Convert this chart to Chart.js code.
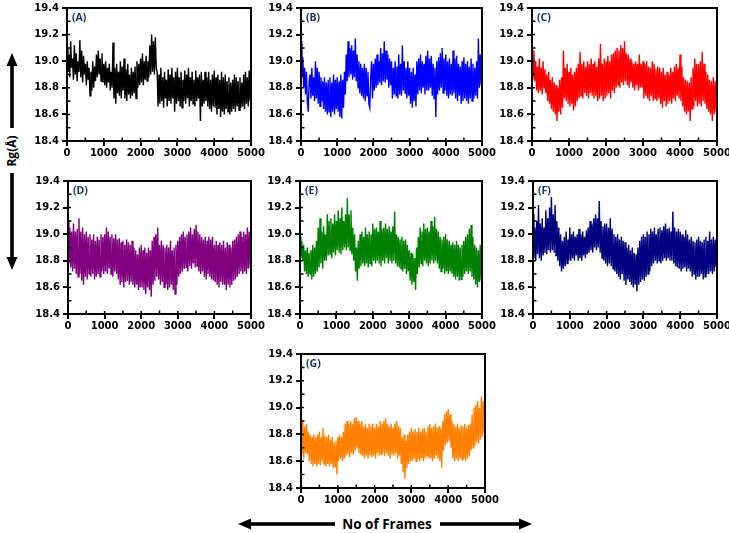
<!DOCTYPE html>
<html>
<head>
<meta charset="utf-8">
<script src="https://cdn.jsdelivr.net/npm/chart.js@4/dist/chart.umd.min.js"></script>
<style>
html,body{margin:0;padding:0;background:#fff;}
#wrap{position:relative;width:729px;height:533px;overflow:hidden;background:#fff;}
canvas{position:absolute;}
.plab{position:absolute;font-family:"Open Sans",sans-serif;font-weight:bold;font-size:10.5px;color:#1b3566;line-height:11px;}
#ylab{position:absolute;left:12px;top:151px;transform:translate(-50%,-50%) rotate(-90deg);font-family:"Open Sans",sans-serif;font-weight:bold;font-size:12px;color:#000;white-space:nowrap;line-height:12px;}
#xlab{position:absolute;left:387px;top:524px;transform:translate(-50%,-50%);font-family:"Open Sans",sans-serif;font-weight:bold;font-size:13.5px;color:#000;white-space:nowrap;line-height:14px;}
svg{position:absolute;left:0;top:0;}
</style>
</head>
<body>
<div id="wrap">
<svg width="729" height="533">
  <rect x="10.2" y="64" width="3.6" height="64" fill="#000"/>
  <polygon points="12,53 6.5,66 17.5,66" fill="#000"/>
  <rect x="10.2" y="173" width="3.6" height="85" fill="#000"/>
  <polygon points="12,270 6.5,257 17.5,257" fill="#000"/>
  <rect x="249" y="522.2" width="86" height="3.6" fill="#000"/>
  <polygon points="238,524 251,518.5 251,529.5" fill="#000"/>
  <rect x="440" y="522.2" width="80" height="3.6" fill="#000"/>
  <polygon points="532,524 519,518.5 519,529.5" fill="#000"/>
</svg>
<div id="ylab">Rg(Å)</div>
<div id="xlab">No of Frames</div>
</div>
<script>
// ---------------- data ----------------
// frame numbers (category axis): every 25 frames from 0 to 5000
const frames = Array.from({length:201}, (_, i) => i * 25);

const xTicks = [0,1000,2000,3000,4000,5000];
const xMinor = [500,1500,2500,3500,4500];
const yTicks = [18.4,18.6,18.8,19.0,19.2,19.4];
const yMinor = [18.5,18.7,18.9,19.1,19.3];

const rgA = [
19.10,18.92,19.05,18.88,19.15,18.95,19.02,18.86,19.12,18.90,
19.06,18.85,19.00,18.92,19.16,18.88,19.08,18.84,19.04,18.90,
18.98,18.82,19.00,18.86,18.95,18.74,18.92,18.78,19.00,18.80,
18.96,18.85,19.05,18.88,19.08,18.90,19.02,18.85,19.06,18.84,
18.98,18.82,19.00,18.80,18.95,18.84,18.98,18.78,18.92,18.80,
19.14,18.72,18.95,18.68,18.98,18.76,18.92,18.74,19.00,18.72,
18.96,18.78,19.02,18.72,18.94,18.70,18.98,18.75,18.90,18.72,
18.95,18.74,18.92,18.76,18.96,18.72,19.00,18.80,18.98,18.82,
19.02,18.84,19.06,18.82,19.00,18.86,19.04,18.85,19.00,18.88,
19.12,18.90,19.20,18.92,19.15,18.90,19.18,18.95,18.92,18.66,
18.90,18.68,18.95,18.70,18.88,18.65,18.92,18.72,18.86,18.66,
18.94,18.70,18.90,18.68,18.95,18.72,18.88,18.62,18.92,18.68,
18.95,18.70,18.88,18.66,18.92,18.65,18.86,18.70,18.93,18.68,
18.90,18.72,18.95,18.66,18.88,18.70,18.92,18.68,18.86,18.66,
18.93,18.70,18.88,18.72,18.90,18.55,18.92,18.66,18.86,18.68,
18.92,18.70,18.88,18.66,18.92,18.64,18.86,18.62,18.90,18.66,
18.93,18.65,18.88,18.60,18.90,18.64,18.86,18.58,18.92,18.62,
18.88,18.60,18.90,18.64,18.85,18.62,18.88,18.60,18.84,18.62,
18.86,18.64,18.90,18.62,18.88,18.66,18.85,18.63,18.88,18.65,
18.84,18.66,18.90,18.64,18.92,18.68,18.88,18.66,18.93,18.70,
18.95];

const rgB = [
19.15,18.88,19.03,18.80,18.95,18.75,18.92,18.70,18.62,18.85,
18.90,18.72,18.95,18.74,18.88,18.70,19.00,18.72,18.95,18.68,
18.92,18.66,18.88,18.70,18.85,18.64,18.88,18.62,18.84,18.60,
18.86,18.62,18.88,18.58,18.84,18.62,18.90,18.60,18.86,18.64,
18.88,18.62,18.85,18.58,18.90,18.57,18.86,18.65,18.92,18.75,
19.05,18.85,19.15,18.88,19.10,18.90,19.12,18.86,19.08,18.88,
19.17,18.85,19.05,18.80,19.00,18.76,18.98,18.74,18.95,18.72,
18.98,18.70,18.95,18.74,18.92,18.68,18.65,18.88,19.00,18.72,
18.98,18.78,19.02,18.80,19.05,18.82,19.00,18.84,19.10,18.82,
19.06,18.85,19.15,18.84,19.08,18.86,19.05,18.80,19.02,18.82,
19.00,18.72,18.95,18.75,19.00,18.74,18.96,18.72,19.05,18.75,
18.98,18.74,19.12,18.78,19.00,18.76,18.95,18.72,19.00,18.74,
18.95,18.68,18.92,18.65,18.95,18.70,18.90,18.66,19.00,18.75,
19.02,18.78,19.05,18.76,19.00,18.80,18.98,18.75,19.04,18.78,
19.08,18.78,19.02,18.80,19.04,18.74,18.98,18.72,18.95,18.58,
19.00,18.75,19.03,18.78,19.06,18.80,19.10,18.76,19.02,18.78,
19.05,18.74,19.00,18.72,19.02,18.75,18.98,18.74,19.08,18.76,
19.02,18.72,19.04,18.70,18.98,18.74,18.96,18.68,19.00,18.70,
19.03,18.72,18.98,18.70,19.00,18.68,18.96,18.72,19.02,18.70,
18.98,18.72,18.95,18.74,19.00,18.72,19.17,18.80,19.05,18.82,
19.00];

const rgC = [
19.05,18.86,19.08,18.85,19.00,18.78,18.96,18.76,19.02,18.78,
18.95,18.75,19.00,18.80,18.94,18.76,18.90,18.70,18.92,18.68,
18.86,18.64,18.88,18.62,18.84,18.60,18.82,18.55,18.80,18.62,
18.86,18.60,18.88,18.65,19.08,18.72,18.95,18.70,18.98,18.68,
18.92,18.66,18.95,18.68,18.90,18.63,18.92,18.66,18.95,18.70,
18.98,18.72,19.07,18.74,18.98,18.72,19.00,18.76,18.96,18.74,
19.00,18.72,18.98,18.76,19.02,18.74,18.98,18.72,19.00,18.74,
18.96,18.70,19.02,18.72,19.13,18.74,18.98,18.70,19.02,18.72,
19.00,18.74,19.04,18.76,19.00,18.72,19.05,18.78,19.06,18.76,
19.08,18.80,19.10,18.82,19.08,18.80,19.12,18.84,19.10,18.82,
19.15,18.85,19.06,18.82,19.05,18.80,19.02,18.84,19.00,18.80,
18.98,18.78,19.00,18.82,18.98,18.78,19.05,18.80,18.98,18.80,
19.00,18.72,18.98,18.74,19.00,18.72,18.96,18.70,18.95,18.74,
19.00,18.70,18.98,18.72,18.94,18.70,18.96,18.72,18.95,18.68,
18.92,18.65,18.95,18.70,18.90,18.66,18.92,18.68,18.90,18.70,
18.95,18.68,18.92,18.72,18.96,18.70,18.98,18.74,18.95,18.72,
19.05,18.70,18.96,18.66,18.88,18.62,18.86,18.60,18.85,18.62,
18.84,18.55,18.88,18.64,18.95,18.66,19.02,18.70,18.98,18.66,
18.98,18.68,19.00,18.66,19.07,18.70,18.98,18.68,18.92,18.64,
18.90,18.62,18.86,18.60,18.85,18.55,18.88,18.60,18.85,18.62,
18.93];

const rgD = [
19.10,18.78,19.05,18.75,19.02,18.72,19.08,18.74,19.02,18.70,
19.04,18.68,19.12,18.70,19.02,18.65,19.05,18.62,19.00,18.68,
19.02,18.66,18.98,18.70,19.00,18.68,18.96,18.70,19.00,18.66,
18.95,18.68,18.98,18.70,18.96,18.68,19.00,18.72,18.98,18.70,
19.00,18.72,19.05,18.70,19.02,18.74,18.98,18.70,19.00,18.68,
18.97,18.72,19.00,18.70,18.96,18.66,18.97,18.62,18.94,18.64,
18.95,18.60,18.92,18.64,18.96,18.65,18.94,18.62,18.92,18.64,
18.95,18.62,18.90,18.60,18.88,18.62,18.85,18.58,18.90,18.60,
18.92,18.60,18.88,18.58,18.90,18.55,18.86,18.60,18.90,18.58,
18.88,18.53,18.95,18.62,18.98,18.65,19.00,18.68,19.05,18.66,
18.92,18.62,18.95,18.64,18.92,18.60,18.90,18.62,18.92,18.58,
18.90,18.60,18.95,18.62,18.88,18.58,18.90,18.55,18.92,18.62,
18.95,18.68,18.98,18.70,19.00,18.72,19.02,18.74,18.98,18.75,
19.00,18.72,19.02,18.76,19.05,18.74,19.00,18.78,19.04,18.75,
19.07,18.76,19.02,18.72,19.00,18.70,18.98,18.72,18.96,18.68,
18.98,18.66,18.95,18.70,18.98,18.68,18.96,18.66,18.98,18.65,
18.92,18.64,18.95,18.62,18.92,18.60,18.94,18.64,18.92,18.62,
18.95,18.62,18.90,18.58,18.94,18.62,18.92,18.60,18.90,18.62,
18.95,18.65,18.96,18.66,18.98,18.68,19.00,18.70,19.02,18.72,
18.98,18.70,19.02,18.72,19.00,18.70,19.05,18.74,19.02,18.75,
18.92];

const rgE = [
18.98,18.82,18.95,18.80,18.92,18.72,18.88,18.70,18.90,18.68,
18.86,18.70,18.88,18.66,18.92,18.68,18.90,18.70,18.95,18.72,
19.05,18.75,19.12,18.78,19.02,18.74,19.06,18.80,19.00,18.80,
19.15,18.84,19.10,18.85,19.12,18.82,19.08,18.86,19.15,18.84,
19.10,18.88,19.18,18.86,19.12,18.85,19.20,18.88,19.10,18.90,
19.15,18.88,19.27,18.90,19.15,18.88,19.18,18.85,19.05,18.80,
19.00,18.72,18.90,18.65,18.95,18.74,19.00,18.76,19.02,18.78,
18.98,18.76,19.05,18.78,19.00,18.75,19.02,18.78,19.00,18.76,
19.08,18.80,19.04,18.78,19.05,18.80,19.02,18.78,19.10,18.76,
19.04,18.80,19.05,18.78,19.08,18.82,19.04,18.78,19.06,18.80,
19.02,18.78,19.06,18.80,19.17,18.78,19.00,18.76,18.98,18.75,
18.96,18.74,18.98,18.72,18.95,18.74,18.96,18.70,18.92,18.72,
18.88,18.65,18.86,18.62,18.85,18.64,18.82,18.58,18.90,18.70,
18.98,18.75,19.05,18.78,19.02,18.76,19.08,18.80,19.04,18.78,
19.05,18.76,19.02,18.78,19.10,18.80,19.06,18.78,19.13,18.80,
19.04,18.78,19.02,18.74,18.98,18.72,18.96,18.74,18.98,18.70,
19.00,18.72,18.96,18.70,18.95,18.72,18.92,18.70,18.94,18.68,
18.92,18.66,18.95,18.68,18.92,18.65,18.90,18.66,18.92,18.68,
18.95,18.70,18.98,18.72,19.00,18.70,19.04,18.72,19.07,18.68,
18.98,18.66,18.92,18.62,18.90,18.60,18.88,18.64,18.92,18.65,
18.92];

const rgF = [
19.15,18.82,19.05,18.80,19.10,18.85,19.22,18.82,19.08,18.80,
19.12,18.84,19.05,18.86,19.18,18.85,19.12,18.88,19.20,18.86,
19.28,18.88,19.15,18.86,19.22,18.84,19.10,18.80,19.05,18.76,
19.00,18.72,18.95,18.74,18.98,18.76,19.02,18.78,18.96,18.80,
19.05,18.80,19.00,18.82,19.02,18.80,18.98,18.84,19.00,18.80,
19.04,18.82,19.00,18.80,19.02,18.84,18.98,18.82,19.03,18.85,
19.05,18.86,19.10,18.88,19.08,18.86,19.12,18.90,19.15,18.88,
19.12,18.90,19.25,18.86,19.10,18.82,19.06,18.80,19.08,18.78,
19.08,18.76,19.05,18.78,19.12,18.76,19.04,18.74,19.00,18.72,
18.98,18.70,19.00,18.68,18.96,18.66,18.98,18.70,18.95,18.65,
18.94,18.62,18.90,18.66,18.92,18.64,18.88,18.62,18.90,18.60,
18.86,18.62,18.85,18.57,18.90,18.62,18.95,18.64,18.98,18.66,
19.00,18.65,18.98,18.68,19.02,18.70,19.00,18.72,19.04,18.76,
19.02,18.78,19.05,18.80,19.00,18.78,19.04,18.80,19.05,18.78,
19.03,18.80,19.06,18.82,19.08,18.80,19.04,18.82,19.05,18.80,
19.02,18.80,19.17,18.78,19.05,18.76,19.02,18.75,19.04,18.74,
19.02,18.72,19.00,18.74,18.98,18.75,19.03,18.72,19.00,18.74,
18.96,18.72,18.98,18.68,18.95,18.70,18.94,18.66,18.96,18.68,
18.98,18.68,18.95,18.70,18.94,18.66,18.96,18.68,18.98,18.70,
18.95,18.70,19.02,18.72,18.96,18.70,18.98,18.72,18.96,18.75,
18.95];

const rgG = [
18.88,18.64,18.90,18.62,18.86,18.66,18.88,18.65,18.82,18.60,
18.80,18.58,18.78,18.56,18.80,18.58,18.78,18.56,18.80,18.58,
18.82,18.57,18.78,18.60,18.85,18.58,18.80,18.56,18.78,18.58,
18.80,18.56,18.76,18.58,18.78,18.55,18.74,18.56,18.75,18.50,
18.78,18.60,18.80,18.62,18.78,18.60,18.82,18.62,18.88,18.64,
18.90,18.65,18.88,18.63,18.90,18.66,18.88,18.65,18.92,18.68,
18.93,18.70,18.90,18.66,18.88,18.65,18.90,18.64,18.86,18.62,
18.88,18.64,18.85,18.62,18.88,18.65,18.86,18.63,18.88,18.64,
18.85,18.62,18.88,18.66,18.86,18.64,18.90,18.65,18.88,18.66,
18.90,18.64,18.92,18.66,18.88,18.64,18.86,18.62,18.88,18.65,
18.85,18.64,18.88,18.66,18.90,18.62,18.86,18.64,18.85,18.58,
18.78,18.52,18.80,18.47,18.75,18.55,18.80,18.58,18.82,18.60,
18.85,18.60,18.82,18.62,18.84,18.60,18.82,18.62,18.85,18.60,
18.82,18.62,18.84,18.60,18.85,18.62,18.82,18.64,18.86,18.62,
18.88,18.62,18.85,18.60,18.86,18.62,18.88,18.64,18.85,18.62,
18.86,18.60,18.84,18.55,18.90,18.68,18.95,18.72,18.97,18.74,
18.99,18.75,18.95,18.70,18.90,18.62,18.88,18.60,18.86,18.62,
18.88,18.60,18.85,18.62,18.87,18.61,18.86,18.62,18.88,18.60,
18.85,18.62,18.87,18.64,18.88,18.68,18.95,18.70,19.00,18.72,
19.02,18.74,19.05,18.73,19.00,18.76,19.08,18.78,19.05,18.80,
18.95];

const panelNames = ["(A)","(B)","(C)","(D)","(E)","(F)","(G)"];
const panelColors = ["#000000","#0000ff","#ff0000","#800080","#008000","#000080","#ff8000"];
const panelSeries = [rgA,rgB,rgC,rgD,rgE,rgF,rgG];
// plot-area boxes (left, top, right, bottom) in page pixels
const panelBoxes = [
  [67,7,251,141],[301,7,482,141],[532,7,717,141],
  [68,180,251,314],[300,180,482,314],[533,180,717,314],
  [301,353,485,488]
];

// ---------------- drawing ----------------
const YW = 45, XH = 24, PT = 8, PR = 22;
const wrap = document.getElementById('wrap');
const tickFont = {family:"'DejaVu Sans', sans-serif", size:10, weight:'bold'};

const framePlugin = {
  id:'frame',
  afterDraw(chart){
    const {ctx, chartArea:a, scales} = chart;
    ctx.save();
    ctx.strokeStyle = '#000';
    ctx.lineWidth = 2;
    ctx.strokeRect(a.left, a.top, a.right - a.left, a.bottom - a.top);
    ctx.lineWidth = 1.5;
    ctx.beginPath();
    xMinor.forEach(v=>{const p = scales.x.getPixelForValue(v); ctx.moveTo(p, a.bottom); ctx.lineTo(p, a.bottom-3.5);});
    xTicks.forEach(v=>{const p = scales.x.getPixelForValue(v); ctx.moveTo(p, a.bottom); ctx.lineTo(p, a.bottom-3);});
    yMinor.forEach(v=>{const p = scales.y.getPixelForValue(v); ctx.moveTo(a.left, p); ctx.lineTo(a.left+3.5, p);});
    yTicks.forEach(v=>{const p = scales.y.getPixelForValue(v); ctx.moveTo(a.left, p); ctx.lineTo(a.left+3, p);});
    ctx.stroke();
    ctx.restore();
  }
};

panelBoxes.forEach((b, i)=>{
  const [l,t,r,bt] = b;
  const w = (r-l) + YW + PR, h = (bt-t) + PT + XH;
  const cv = document.createElement('canvas');
  cv.width = w; cv.height = h;
  cv.style.left = (l - YW) + 'px';
  cv.style.top = (t - PT) + 'px';
  cv.style.width = w + 'px';
  cv.style.height = h + 'px';
  wrap.appendChild(cv);

  const lab = document.createElement('div');
  lab.className = 'plab';
  lab.textContent = panelNames[i];
  lab.style.left = (l + 5) + 'px';
  lab.style.top = (t + 5) + 'px';
  wrap.appendChild(lab);

  new Chart(cv, {
    type:'line',
    data:{
      datasets:[{
        data: frames.map((f,k)=>({x:f, y:panelSeries[i][k]})),
        borderColor: panelColors[i],
        borderWidth: 1.4,
        pointRadius: 0,
        tension: 0,
        fill: false
      }]
    },
    options:{
      responsive:false,
      animation:false,
      devicePixelRatio:1,
      layout:{padding:{top:PT,right:PR,left:0,bottom:0}},
      plugins:{legend:{display:false},tooltip:{enabled:false}},
      scales:{
        x:{
          type:'linear', min:0, max:5000,
          afterBuildTicks(s){ s.ticks = xTicks.map(v=>({value:v})); },
          afterFit(s){ s.height = XH; },
          ticks:{font:tickFont, color:'#000', padding:1, maxRotation:0, autoSkip:false, callback:v=>String(v)},
          grid:{drawOnChartArea:false, drawTicks:true, tickLength:5, color:'#000', lineWidth:2},
          border:{display:true, color:'#000', width:2}
        },
        y:{
          type:'linear', min:18.4, max:19.4,
          afterBuildTicks(s){ s.ticks = yTicks.map(v=>({value:v})); },
          afterFit(s){ s.width = YW; },
          ticks:{font:tickFont, color:'#000', padding:3, autoSkip:false, callback:v=>Number(v).toFixed(1)},
          grid:{drawOnChartArea:false, drawTicks:true, tickLength:5, color:'#000', lineWidth:2},
          border:{display:true, color:'#000', width:2}
        }
      }
    },
    plugins:[framePlugin]
  });
});
</script>
</body>
</html>
